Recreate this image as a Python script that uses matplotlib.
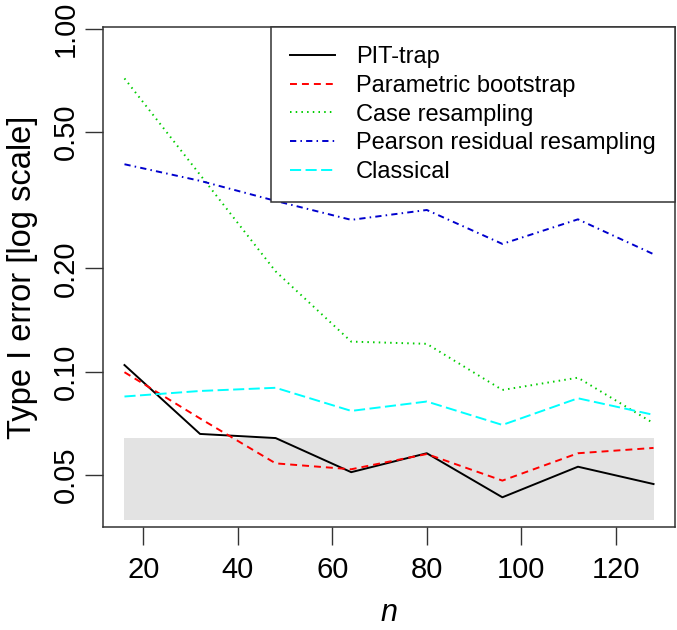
import matplotlib
matplotlib.use("Agg")
import matplotlib.pyplot as plt
from matplotlib.ticker import FixedLocator, FixedFormatter, NullLocator

plt.rcParams['font.family'] = ['Liberation Sans', 'DejaVu Sans']
plt.rcParams['lines.scale_dashes'] = False

n = [16, 32, 48, 64, 80, 96, 112, 128]
pit_trap = [0.1045, 0.0658, 0.0640, 0.0509, 0.0578, 0.0430, 0.0528, 0.0470]
parametric = [0.0996, 0.0730, 0.0540, 0.0519, 0.0575, 0.0481, 0.0578, 0.0599]
case_resamp = [0.716, 0.375, 0.196, 0.1223, 0.1205, 0.0884, 0.0960, 0.0707]
pearson = [0.4024, 0.360, 0.3146, 0.277, 0.296, 0.2357, 0.278, 0.220]
classical = [0.0846, 0.0878, 0.0897, 0.0768, 0.0818, 0.0699, 0.0836, 0.0748]
band = [0.037, 0.064]

labels = ["PIT-trap", "Parametric bootstrap", "Case resampling",
          "Pearson residual resampling", "Classical"]
xticks = [20, 40, 60, 80, 100, 120]
yticks = [0.05, 0.10, 0.20, 0.50, 1.00]
ytick_labels = ["0.05", "0.10", "0.20", "0.50", "1.00"]

fig = plt.figure(figsize=(6.77, 6.30), dpi=100)
ax = fig.add_axes([0.1526, 0.164, 0.9966 - 0.1526, 0.9567 - 0.164])

ax.fill_between([n[0], n[-1]], band[0], band[1], color="#E3E3E3", lw=0, zorder=0)

lw = 1.4
ax.plot(n, pit_trap, color="black", lw=lw, label=labels[0])
ax.plot(n, parametric, color="#FF0000", lw=lw, dashes=(5, 3.6), label=labels[1])
ax.plot(n, case_resamp, color="#00CD00", lw=lw, dashes=(1.1, 3.0), label=labels[2])
ax.plot(n, pearson, color="#0000CD", lw=lw, dashes=(4.5, 3.0, 1.1, 3.0), label=labels[3])
ax.plot(n, classical, color="#00FFFF", lw=lw, dashes=(8, 3.2), label=labels[4])

ax.set_yscale("log")
ax.set_xlim(11.52, 132.48)
ax.set_ylim(0.0353, 1.0094)

ax.xaxis.set_major_locator(FixedLocator(xticks))
ax.xaxis.set_minor_locator(NullLocator())
ax.yaxis.set_major_locator(FixedLocator(yticks))
ax.yaxis.set_major_formatter(FixedFormatter(ytick_labels))
ax.yaxis.set_minor_locator(NullLocator())

ax.tick_params(axis="both", direction="out", length=13, width=1.0, color="#333333",
               labelsize=21)
ax.tick_params(axis="x", pad=8)
ax.tick_params(axis="y", pad=4)
for lab in ax.get_yticklabels():
    lab.set_rotation(90)
    lab.set_va("center")

for sp in ax.spines.values():
    sp.set_linewidth(1.1)
    sp.set_color("#333333")

ax.set_xlabel("n", fontsize=22, style="italic", labelpad=10)
ax.set_ylabel("Type I error [log scale]", fontsize=23.5, labelpad=10)

leg = ax.legend(loc="upper right", bbox_to_anchor=(1.0, 1.0), borderaxespad=0,
                fontsize=17, frameon=True, fancybox=False, framealpha=1,
                edgecolor="#333333", handlelength=1.9, handletextpad=0.9,
                borderpad=0.8, labelspacing=0.285)
leg.get_frame().set_linewidth(1.1)

fig.savefig("out.png", dpi=100)
